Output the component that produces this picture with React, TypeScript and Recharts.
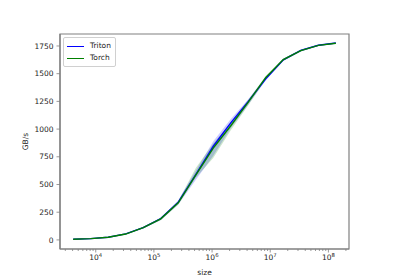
import React from 'react';
import {
  ComposedChart,
  Line,
  Area,
  XAxis,
  YAxis,
  Legend,
  ReferenceArea,
} from 'recharts';

// benchmark sizes: 2^12 .. 2^27
const sizes = [
  4096, 8192, 16384, 32768, 65536, 131072, 262144, 524288, 1048576, 2097152,
  4194304, 8388608, 16777216, 33554432, 67108864, 134217728,
];

const tritonGbs = [6, 12, 24, 54, 111, 192, 340, 590, 845, 1056, 1250, 1454, 1625, 1710, 1756, 1777];
const tritonLo = [5, 11, 22, 50, 104, 180, 320, 540, 760, 1010, 1220, 1440, 1615, 1700, 1750, 1772];
const tritonHi = [7, 13, 26, 58, 118, 200, 355, 625, 890, 1090, 1270, 1470, 1635, 1718, 1762, 1782];

const torchGbs = [6, 12, 24, 53, 110, 190, 335, 585, 828, 1030, 1243, 1466, 1627, 1708, 1755, 1775];
const torchLo = [5, 11, 22, 50, 102, 178, 318, 560, 740, 990, 1215, 1450, 1617, 1700, 1749, 1770];
const torchHi = [7, 13, 26, 57, 116, 198, 350, 650, 870, 1060, 1265, 1480, 1637, 1716, 1760, 1780];

const yTicks = [0, 250, 500, 750, 1000, 1250, 1500, 1750];
const yDomain = [-82, 1858];
const majorTicks = [1e4, 1e5, 1e6, 1e7, 1e8];
const xDomain = [2430, 2.26e8];

// minor ticks 2..9 x 10^n, inside the domain
const minorTicks: number[] = [];
for (let e = 3; e <= 8; e++) {
  for (let m = 2; m <= 9; m++) {
    const v = m * Math.pow(10, e);
    if (v >= xDomain[0] && v <= xDomain[1]) minorTicks.push(v);
  }
}
const xTicks = [...majorTicks, ...minorTicks].sort((a, b) => a - b);

const data = sizes.map((size, i) => ({
  size,
  triton: tritonGbs[i],
  torch: torchGbs[i],
  tritonBand: [tritonLo[i], tritonHi[i]],
  torchBand: [torchLo[i], torchHi[i]],
}));

const FONT = '"DejaVu Sans", sans-serif';
const SPINE = '#808080';

const XTick = (props: any) => {
  const { x, y, payload } = props;
  const v = payload.value;
  const isMajor = majorTicks.includes(v);
  return (
    <g>
      <line x1={x} x2={x} y1={y} y2={y + (isMajor ? 3.5 : 2)} stroke={SPINE} strokeWidth={0.8} />
      {isMajor && (
        <text x={x} y={y + 10.5} textAnchor="middle" fontSize={7.5} fill="#222" fontFamily={FONT}>
          10
          <tspan dy={-3} fontSize={5.3}>{Math.round(Math.log10(v))}</tspan>
        </text>
      )}
    </g>
  );
};

const YLabel = (props: any) => {
  const { viewBox } = props;
  const cx = viewBox.x + 28;
  const cy = viewBox.y + viewBox.height / 2;
  return (
    <text x={cx} y={cy} transform={`rotate(-90, ${cx}, ${cy})`} textAnchor="middle" fontSize={7.5} fill="#222" fontFamily={FONT}>
      GB/s
    </text>
  );
};

const LegendBox = () => (
  <div
    style={{
      border: '1px solid #d0d0d0',
      borderRadius: 2,
      background: 'rgba(255,255,255,0.8)',
      padding: '2px 4px 2px 3px',
      fontFamily: FONT,
      fontSize: 7.5,
      color: '#222',
      lineHeight: '12px',
    }}
  >
    {[
      { name: 'Triton', color: '#0000ff' },
      { name: 'Torch', color: '#008000' },
    ].map((it) => (
      <div key={it.name} style={{ display: 'flex', alignItems: 'center' }}>
        <span style={{ display: 'inline-block', width: 17, height: 1, background: it.color, marginRight: 6 }} />
        {it.name}
      </div>
    ))}
  </div>
);

export default function App() {
  return (
    <div style={{ width: 400, height: 280, background: '#fff' }}>
      <style>{`body{margin:0}`}</style>
      <ComposedChart
        width={400}
        height={280}
        data={data}
        margin={{ top: 34, right: 51, bottom: 0, left: 0 }}
      >
        <XAxis
          dataKey="size"
          type="number"
          scale="log"
          domain={xDomain}
          allowDataOverflow
          ticks={xTicks}
          interval={0}
          height={31}
          tickSize={0}
          tickMargin={0}
          tickLine={false}
          tick={<XTick />}
          axisLine={{ stroke: SPINE, strokeWidth: 1.2 }}
          label={{ value: 'size', position: 'insideBottom', offset: 5, fontSize: 7.5, fill: '#222', fontFamily: FONT }}
        />
        <YAxis
          type="number"
          domain={yDomain}
          allowDataOverflow
          ticks={yTicks}
          interval={0}
          width={60}
          tickSize={3.5}
          tickMargin={3}
          tickLine={{ stroke: SPINE, strokeWidth: 0.8 }}
          tick={{ fontSize: 7.5, fill: '#222', fontFamily: FONT }}
          axisLine={{ stroke: SPINE, strokeWidth: 1.2 }}
          label={<YLabel />}
        />
        {/* axes frame (matplotlib spines) */}
        <ReferenceArea
          x1={xDomain[0]}
          x2={xDomain[1]}
          y1={yDomain[0]}
          y2={yDomain[1]}
          fill="none"
          stroke={SPINE}
          strokeWidth={1.2}
          ifOverflow="visible"
        />
        <Area type="linear" dataKey="tritonBand" stroke="none" fill="#0000ff" fillOpacity={0.2} isAnimationActive={false} legendType="none" />
        <Area type="linear" dataKey="torchBand" stroke="none" fill="#008000" fillOpacity={0.2} isAnimationActive={false} legendType="none" />
        <Line type="linear" dataKey="triton" stroke="#0000ff" strokeWidth={1.4} dot={false} isAnimationActive={false} />
        <Line type="linear" dataKey="torch" stroke="#008000" strokeWidth={1.4} dot={false} isAnimationActive={false} />
        <Legend
          layout="vertical"
          align="center"
          verticalAlign="middle"
          content={<LegendBox />}
          wrapperStyle={{ top: 37, left: 63, width: 'auto', height: 'auto' }}
        />
      </ComposedChart>
    </div>
  );
}
